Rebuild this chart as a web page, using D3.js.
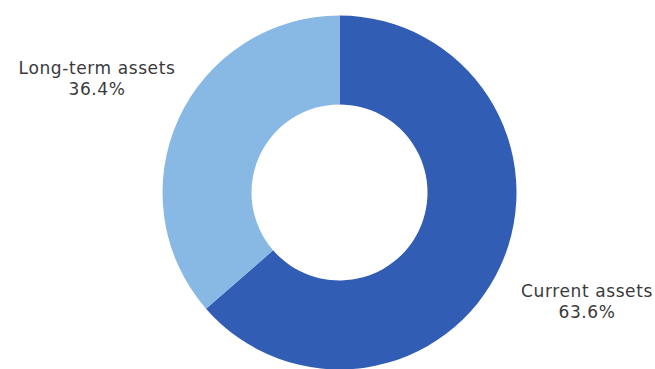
<!DOCTYPE html>
<html>
<head>
<meta charset="utf-8">
<script src="https://cdn.jsdelivr.net/npm/d3@7"></script>
<style>
  html, body { margin: 0; padding: 0; background: #fff; }
  svg { display: block; }
</style>
</head>
<body>
<svg id="chart" width="655" height="369"></svg>
<script>
// Asset composition
const categories = ["Current assets", "Long-term assets"];
const values = [63.6, 36.4];
const colors = ["#325db5", "#88b9e4"];

const width = 655, height = 369;
const cx = 339.5, cy = 192.5;
const outerR = 177, innerR = 88;

const svg = d3.select("#chart");

const pie = d3.pie().sort(null).value(d => d.value);
const data = categories.map((c, i) => ({ name: c, value: values[i], color: colors[i] }));
const arcs = pie(data);

const arc = d3.arc().innerRadius(innerR).outerRadius(outerR);

const g = svg.append("g").attr("transform", `translate(${cx},${cy})`);

g.selectAll("path")
  .data(arcs)
  .join("path")
  .attr("d", arc)
  .attr("fill", d => d.data.color);

// Outside labels
const labelPos = {
  "Current assets": [587, 297],
  "Long-term assets": [97, 74]
};
const fmt = d3.format(".1f");

const labels = svg.append("g")
  .attr("font-family", "'DejaVu Sans', sans-serif")
  .attr("font-size", 17)
  .attr("letter-spacing", 0.6)
  .attr("fill", "#3a3a3a")
  .attr("text-anchor", "middle");

arcs.forEach(a => {
  const [x, y] = labelPos[a.data.name];
  const t = labels.append("text").attr("x", x).attr("y", y);
  t.append("tspan").attr("x", x).text(a.data.name);
  t.append("tspan").attr("x", x).attr("dy", 21).text(fmt(a.data.value) + "%");
});
</script>
</body>
</html>
